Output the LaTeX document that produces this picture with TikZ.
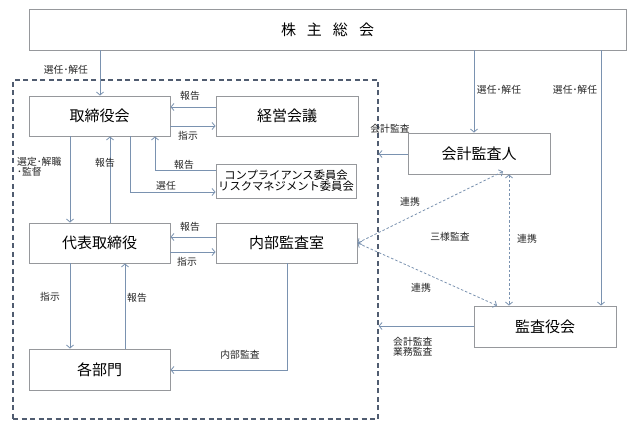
\documentclass[tikz,border=0pt]{standalone}
\usepackage{fontspec}
\setmainfont{Noto Sans CJK JP}
\usetikzlibrary{arrows.meta}
\definecolor{boxline}{RGB}{150,152,156}
\definecolor{arrline}{RGB}{122,146,176}
\definecolor{frameline}{RGB}{80,92,112}
\tikzset{
  box/.style={draw=boxline, line width=0.9pt, fill=white, inner sep=0pt, font=\fontsize{15}{17}\selectfont},
  smallbox/.style={draw=boxline, line width=0.9pt, fill=white, inner sep=0pt, align=center, font=\fontsize{11.3}{13}\selectfont},
  arr/.style={draw=arrline, line width=0.8pt, -{Straight Barb[length=3pt,width=7pt]}},
  darr/.style={draw=arrline, line width=0.8pt, dash pattern=on 2.5pt off 2pt, {Straight Barb[length=3pt,width=7pt]}-{Straight Barb[length=3pt,width=7pt]}},
  lbl/.style={inner sep=0pt, font=\fontsize{9.8}{12}\selectfont, text=black!85},
  lblL/.style={lbl, align=left},
  framebox/.style={draw=frameline, line width=1.1pt, dash pattern=on 5pt off 3.5pt, inner sep=0pt}
}
\begin{document}
\begin{tikzpicture}[x=1pt,y=-1pt]
\useasboundingbox (0,0) rectangle (627,433);
\fill[white] (0,0) rectangle (627,433);
% dashed frame
\node[framebox, minimum width=365pt, minimum height=339pt] (frame) at (195.5,249.5) {};
% boxes
\node[box, minimum width=597pt, minimum height=41pt] (sh) at (327.5,29.5) {株\hspace{11pt}主\hspace{11pt}総\hspace{11pt}会};
\node[box, minimum width=141pt, minimum height=40pt] (tori) at (99.5,116) {取締役会};
\node[box, minimum width=142pt, minimum height=40pt] (keiei) at (287,116) {経営会議};
\node[smallbox, minimum width=140pt, minimum height=34pt] (comp) at (286,181) {コンプライアンス委員会\\[-2pt]リスクマネジメント委員会};
\node[box, minimum width=141pt, minimum height=40pt] (daihyo) at (99.5,243) {代表取締役};
\node[box, minimum width=141pt, minimum height=40pt] (naibu) at (286.5,243) {内部監査室};
\node[box, minimum width=141pt, minimum height=41pt] (kakubu) at (99.5,369.5) {各部門};
\node[box, minimum width=142pt, minimum height=41pt] (kaikei) at (479,153.5) {会計監査人};
\node[box, minimum width=142pt, minimum height=41pt] (kansa) at (545,326.5) {監査役会};
% helper coordinates
\coordinate (c70) at (70,0);
\coordinate (c100) at (100,0);
\coordinate (c110) at (110,0);
\coordinate (c125) at (125,0);
\coordinate (c130) at (130,0);
\coordinate (c155) at (155,0);
\coordinate (c287) at (287,0);
\coordinate (c474) at (474,0);
\coordinate (c497) at (497,0);
\coordinate (c503) at (503,0);
\coordinate (c509) at (509,0);
\coordinate (c601) at (601,0);
\coordinate (r107) at (0,107);
\coordinate (r127) at (0,126);
\coordinate (r154) at (0,154);
\coordinate (r170) at (0,170);
\coordinate (r192) at (0,192);
\coordinate (r238) at (0,237);
\coordinate (r252) at (0,252);
\coordinate (r326) at (0,326);
\coordinate (r370) at (0,370);
% connectors
\draw[arr] (sh.south -| c100) -- (tori.north -| c100);
\draw[arr] (sh.south -| c474) -- (kaikei.north -| c474);
\draw[arr] (sh.south -| c601) -- (kansa.north -| c601);
\draw[arr] (keiei.west |- r107) -- (tori.east |- r107);
\draw[arr] (tori.east |- r127) -- (keiei.west |- r127);
\draw[arr] (comp.west |- r170) -| (tori.south -| c155);
\draw[arr] (tori.south -| c130) |- (comp.west |- r192);
\draw[arr] (tori.south -| c70) -- (daihyo.north -| c70);
\draw[arr] (daihyo.north -| c110) -- (tori.south -| c110);
\draw[arr] (naibu.west |- r238) -- (daihyo.east |- r238);
\draw[arr] (daihyo.east |- r252) -- (naibu.west |- r252);
\draw[arr] (daihyo.south -| c70) -- (kakubu.north -| c70);
\draw[arr] (kakubu.north -| c125) -- (daihyo.south -| c125);
\draw[arr] (naibu.south -| c287) |- (kakubu.east |- r370);
\draw[arr] (kaikei.west |- r154) -- (frame.east |- r154);
\draw[arr] (kansa.west |- r326) -- (frame.east |- r326);
\draw[darr] (naibu.east) -- ([yshift=3pt]kaikei.south -| c503);
\draw[darr] (naibu.east) -- (kansa.north -| c497);
\draw[darr] (kaikei.south -| c509) -- (kansa.north -| c509);
% labels
\node[lbl] (l1) at (66,70) {選任･解任};
\node[lbl] (l2) at (499,90) {選任･解任};
\node[lbl] (l3) at (575,90) {選任･解任};
\node[lbl] (l4) at (190,96) {報告};
\node[lbl] (l5) at (188,136) {指示};
\node[lbl] (l6) at (184,165) {報告};
\node[lbl] (l7) at (166,186) {選任};
\node[lblL, anchor=north west] (l8) at (17,157) {選定･解職\\[-2pt]･監督};
\node[lbl] (l9) at (105,163) {報告};
\node[lbl] (l10) at (190,227) {報告};
\node[lbl] (l11) at (187,262) {指示};
\node[lbl] (l12) at (50,297) {指示};
\node[lbl] (l13) at (137,298) {報告};
\node[lbl] (l14) at (240,355) {内部監査};
\node[lbl] (l15) at (390,129) {会計監査};
\node[lblL, anchor=north west] (l16) at (393,337) {会計監査\\[-2pt]業務監査};
\node[lbl] (l17) at (410,202) {連携};
\node[lbl] (l18) at (450,237) {三様監査};
\node[lbl] (l19) at (527,239) {連携};
\node[lbl] (l20) at (421,288) {連携};
\end{tikzpicture}
\end{document}
